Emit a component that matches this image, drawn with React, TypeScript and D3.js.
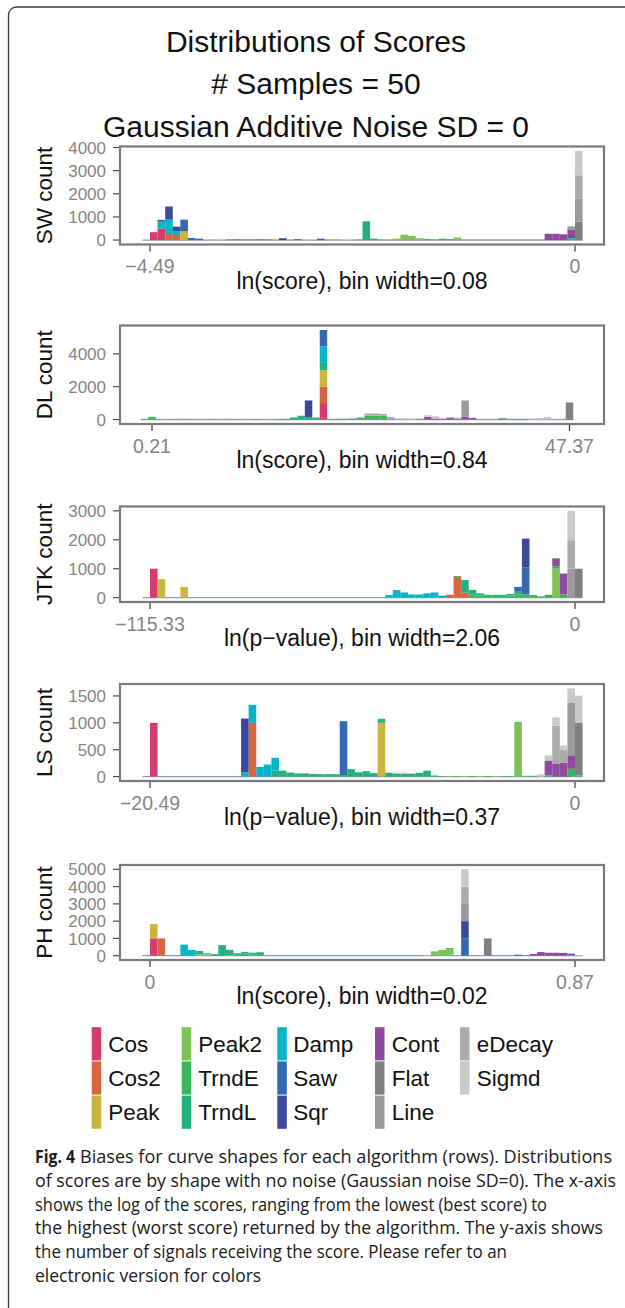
import { useEffect, useRef } from "react";
import * as d3 from "d3";

type Row = [number, string, number];

const shapes = ["Cos", "Cos2", "Peak", "Peak2", "TrndE", "TrndL", "Damp", "Saw", "Sqr", "Cont", "Flat", "Line", "eDecay", "Sigmd"];
const shapeColors = ["#d43d6b", "#d6663f", "#cdb43c", "#7fc255", "#3db55c", "#23b27c", "#08b5c8", "#326ab2", "#3c489c", "#8f4a9c", "#808080", "#9a9a9a", "#ababab", "#c9c9c9"];

const algorithms = ["SW", "DL", "JTK", "LS", "PH"];
const xTitles = [
  "ln(score), bin width=0.08",
  "ln(score), bin width=0.84",
  "ln(p\u2212value), bin width=2.06",
  "ln(p\u2212value), bin width=0.37",
  "ln(score), bin width=0.02",
];
const xMins = [-4.49, 0.21, -115.33, -20.49, 0];
const xMaxs = [0, 47.37, 0, 0, 0.87];
const xTickLabels = [
  ["\u22124.49", "0"],
  ["0.21", "47.37"],
  ["\u2212115.33", "0"],
  ["\u221220.49", "0"],
  ["0", "0.87"],
];
const yTicks = [
  [0, 1000, 2000, 3000, 4000],
  [0, 2000, 4000],
  [0, 1000, 2000, 3000],
  [0, 500, 1000, 1500],
  [0, 1000, 2000, 3000, 4000, 5000],
];

// [bin, shape, count]
const swCounts: Row[] = [
  [0, "Cos", 340],
  [1, "Cos", 500], [1, "Damp", 300], [1, "Sqr", 70],
  [2, "Cos2", 260], [2, "Damp", 650], [2, "Sqr", 540],
  [3, "Cos2", 220], [3, "Damp", 160], [3, "Sqr", 200],
  [4, "Peak", 380], [4, "Saw", 500],
  [5, "Saw", 90], [6, "Saw", 60], [7, "Peak", 20], [8, "Peak", 10], [9, "Peak", 5],
  [10, "Cos2", 30], [11, "Cos2", 40], [12, "Cos2", 30], [12, "Peak", 10], [13, "Cos2", 30], [14, "Cos2", 40], [15, "Cos2", 30],
  [16, "Peak", 20], [17, "Sqr", 80], [18, "Peak", 30], [19, "Saw", 40], [20, "Peak", 10], [21, "Peak", 10], [22, "Saw", 60], [23, "Peak", 30], [24, "Peak", 30],
  [27, "TrndL", 20], [28, "TrndL", 810], [29, "TrndL", 60], [30, "Saw", 15], [31, "Peak2", 30], [32, "Peak2", 60], [33, "Peak2", 230], [34, "Peak2", 180], [35, "Peak2", 80],
  [36, "TrndE", 50], [37, "Peak2", 40], [38, "TrndE", 60], [39, "TrndE", 40], [40, "Peak2", 110], [41, "TrndE", 20],
  [42, "TrndE", 15], [43, "TrndE", 15], [44, "TrndE", 15], [45, "TrndE", 15], [46, "TrndE", 15], [47, "TrndE", 15], [48, "TrndE", 15], [49, "TrndE", 15], [50, "TrndE", 15], [51, "TrndE", 20],
  [52, "Cont", 270], [53, "Cont", 270], [54, "Cont", 250],
  [55, "TrndE", 70], [55, "Saw", 60], [55, "Sqr", 40], [55, "Cont", 270], [55, "Line", 150],
  [56, "Flat", 800], [56, "Line", 1000], [56, "eDecay", 1000], [56, "Sigmd", 1050],
];

const dlCounts: Row[] = [
  [0, "TrndE", 165],
  [1, "Peak", 20], [2, "Peak", 20], [3, "Cos2", 20], [4, "Peak", 20], [5, "Cos2", 20], [6, "Peak", 20], [7, "Peak", 20], [8, "Cos2", 20], [9, "Peak", 20],
  [10, "Peak", 20], [11, "Cos2", 20], [12, "Peak", 20], [13, "Peak", 20], [14, "Cos2", 20], [15, "Peak", 20], [16, "Peak", 20], [17, "TrndL", 20], [18, "TrndL", 30],
  [19, "TrndL", 125], [20, "TrndL", 230], [21, "TrndL", 125], [21, "Sqr", 1035], [22, "TrndL", 120],
  [23, "Cos", 1000], [23, "Cos2", 1000], [23, "Peak", 1000], [23, "TrndL", 450], [23, "Damp", 1000], [23, "Saw", 1000],
  [24, "Line", 30], [25, "TrndE", 20], [25, "Line", 20], [26, "TrndE", 40], [27, "TrndE", 60], [27, "eDecay", 20], [28, "TrndE", 100], [28, "eDecay", 40],
  [29, "TrndE", 230], [29, "eDecay", 140], [30, "TrndE", 240], [30, "eDecay", 130], [31, "TrndE", 230], [31, "eDecay", 110], [32, "Line", 60], [32, "eDecay", 100],
  [33, "Sigmd", 80], [34, "Sigmd", 80], [35, "Sigmd", 50], [36, "Cont", 20], [36, "Sigmd", 40], [37, "Cont", 165], [37, "Sigmd", 105], [38, "Cont", 60], [38, "Sigmd", 140],
  [39, "Cont", 40], [39, "Sigmd", 60], [40, "Cont", 120], [40, "Sigmd", 30], [41, "Cont", 60], [41, "Sigmd", 60], [42, "Cont", 160], [42, "Line", 1000], [43, "Cont", 100],
  [44, "Peak", 15], [45, "Peak", 15], [46, "Peak", 15], [47, "TrndE", 80], [48, "Saw", 15], [49, "Saw", 15], [50, "Saw", 15], [51, "Sigmd", 30],
  [52, "Sigmd", 100], [53, "Sigmd", 165], [54, "Sigmd", 20], [55, "Sigmd", 10], [56, "Flat", 1040],
];

const jtkCounts: Row[] = [
  [0, "Cos", 1000], [1, "Peak", 640], [4, "Peak", 370],
  [31, "Damp", 90], [32, "Damp", 260], [33, "Damp", 180], [34, "Damp", 110], [35, "Damp", 110], [36, "Damp", 150], [37, "Damp", 180], [38, "Damp", 70],
  [39, "Cos2", 100], [40, "Cos2", 720], [40, "TrndL", 30], [41, "Cos2", 170], [41, "TrndL", 440],
  [42, "TrndE", 100], [42, "TrndL", 170], [43, "TrndE", 70], [43, "TrndL", 80], [44, "TrndE", 60], [44, "TrndL", 40], [45, "TrndE", 60], [45, "TrndL", 40],
  [46, "TrndE", 60], [46, "TrndL", 40], [47, "TrndE", 80], [47, "TrndL", 50],
  [48, "TrndE", 100], [48, "TrndL", 130], [48, "Saw", 140], [49, "TrndE", 110], [49, "Saw", 930], [49, "Sqr", 1000],
  [50, "TrndE", 90], [51, "TrndE", 45], [52, "TrndE", 100],
  [53, "Peak2", 1000], [53, "TrndE", 80], [53, "Cont", 280], [54, "TrndE", 110], [54, "Cont", 725],
  [55, "Line", 1000], [55, "eDecay", 985], [55, "Sigmd", 1015], [56, "Flat", 1000],
];

const lsCounts: Row[] = [
  [0, "Cos", 1000],
  [12, "Damp", 80], [12, "Sqr", 1000], [13, "Cos2", 1000], [13, "Damp", 335], [14, "Damp", 180], [15, "Damp", 225], [16, "TrndL", 110], [16, "Damp", 240],
  [17, "TrndL", 110], [18, "TrndL", 75], [19, "TrndL", 60], [20, "TrndL", 60], [21, "TrndL", 50], [22, "TrndL", 45], [23, "TrndL", 45], [24, "TrndL", 45],
  [25, "TrndL", 30], [25, "Saw", 1000], [26, "TrndL", 140], [27, "TrndL", 80], [28, "TrndL", 100], [29, "TrndL", 65], [30, "Peak", 1000], [30, "TrndL", 75],
  [31, "TrndL", 70], [32, "TrndL", 55], [32, "Sigmd", 20], [33, "TrndL", 55], [33, "Sigmd", 20], [34, "TrndL", 55], [35, "TrndL", 70], [36, "TrndL", 110], [37, "TrndL", 20],
  [38, "TrndE", 10], [39, "Peak", 10], [40, "TrndE", 10], [41, "Peak", 10], [42, "TrndE", 10], [43, "Peak", 10], [44, "TrndE", 10], [45, "Peak", 10], [46, "TrndE", 10], [47, "TrndE", 10],
  [48, "Peak2", 1000], [48, "TrndL", 15], [49, "TrndE", 15], [50, "TrndE", 15], [51, "Sigmd", 40],
  [52, "TrndE", 20], [52, "Cont", 280], [52, "Sigmd", 95],
  [53, "Cont", 245], [53, "eDecay", 700], [53, "Sigmd", 155],
  [54, "Cont", 255], [54, "eDecay", 250], [54, "Sigmd", 75],
  [55, "TrndE", 145], [55, "Cont", 250], [55, "Line", 985], [55, "Sigmd", 260],
  [56, "TrndE", 20], [56, "Flat", 985], [56, "Sigmd", 500],
];

const phCounts: Row[] = [
  [0, "Cos", 1000], [0, "Peak", 830], [1, "Cos2", 1000],
  [4, "Damp", 640], [5, "Damp", 340], [6, "Peak", 60], [6, "TrndL", 210], [7, "Peak", 70], [7, "TrndL", 70], [8, "TrndL", 90], [9, "TrndL", 610], [10, "Peak", 40], [10, "TrndL", 300],
  [11, "TrndE", 60], [11, "TrndL", 90], [12, "TrndE", 120], [12, "TrndL", 100], [13, "TrndE", 80], [13, "TrndL", 90], [14, "TrndE", 100], [14, "TrndL", 100],
  [36, "Sigmd", 50], [37, "Peak2", 250], [38, "Peak2", 340], [39, "Peak2", 360], [39, "TrndE", 80],
  [41, "Saw", 1000], [41, "Sqr", 1000], [41, "Line", 1000], [41, "eDecay", 1000], [41, "Sigmd", 1000],
  [44, "Flat", 1000],
  [48, "Saw", 60], [49, "Cont", 15], [50, "Cont", 95], [51, "Cont", 210], [52, "Cont", 170], [53, "Cont", 170], [54, "Cont", 160], [55, "Damp", 40], [55, "Cont", 80], [56, "Sigmd", 30],
];

const panelCounts = [swCounts, dlCounts, jtkCounts, lsCounts, phCounts];

const titleLines = ["Distributions of Scores", "# Samples = 50", "Gaussian Additive Noise SD = 0"];
const captionBold = "Fig. 4";
const captionLines = [
  "Biases for curve shapes for each algorithm (rows). Distributions",
  "of scores are by shape with no noise (Gaussian noise SD=0). The x-axis",
  "shows the log of the scores, ranging from the lowest (best score) to",
  "the highest (worst score) returned by the algorithm. The y-axis shows",
  "the number of signals receiving the score. Please refer to an",
  "electronic version for colors",
];

// layout
const panelTops = [146.5, 325.5, 506.5, 684, 865];
const panelHeights = [98, 98.5, 95.5, 97, 95];
const tickPx = [[150, 575], [152, 569.5], [150, 575], [150, 575], [150, 575]];
const binOffsets = [0, -0.5, 0, 0, 0];
const nBins = 57;
const boxLeft = 120;
const boxRight = 604;

const FONT = "'Liberation Sans', Arial, Helvetica, sans-serif";

export default function App() {
  const ref = useRef<SVGSVGElement>(null);

  useEffect(() => {
    const svg = d3.select(ref.current);
    svg.selectAll("*").remove();

    const color = d3.scaleOrdinal<string, string>().domain(shapes).range(shapeColors);

    // figure frame
    svg.append("path")
      .attr("d", "M8.5,1308 V15 A8,8 0 0 1 16.5,7 H625")
      .attr("fill", "none")
      .attr("stroke", "#3a3a3a")
      .attr("stroke-width", 1.3);

    svg.append("g")
      .attr("font-family", FONT)
      .attr("font-size", 30)
      .attr("text-anchor", "middle")
      .attr("fill", "#111")
      .selectAll("text")
      .data(titleLines)
      .join("text")
      .attr("x", 316)
      .attr("y", (d, i) => 51.5 + i * 42.7)
      .text((d) => d);

    panelCounts.forEach((counts, i) => {
      const table = d3.range(nBins).map((k) => {
        const row: any = { bin: k };
        shapes.forEach((s) => (row[s] = 0));
        return row;
      });
      counts.forEach(([k, s, c]) => (table[k][s] += c));

      const series = d3.stack<any>().keys(shapes)(table);
      const maxY = d3.max(table, (r) => d3.sum(shapes, (s) => r[s])) as number;

      const top = panelTops[i];
      const h = panelHeights[i];
      const bottom = top + h;
      const y = d3.scaleLinear().domain([-0.05 * maxY, 1.05 * maxY]).range([bottom, top]);
      const bw = (xMaxs[i] - xMins[i]) / 56;
      const x = d3.scaleLinear().domain([xMins[i], xMaxs[i]]).range(tickPx[i]);
      const edge = (k: number) => x(xMins[i] + (k + binOffsets[i]) * bw);

      const g = svg.append("g");

      // zero baseline under the bars
      g.append("line")
        .attr("x1", edge(-1))
        .attr("x2", edge(nBins))
        .attr("y1", y(0))
        .attr("y2", y(0))
        .attr("stroke", "#8e9cb2")
        .attr("stroke-width", 1.3);

      g.append("g")
        .selectAll("g")
        .data(series)
        .join("g")
        .attr("fill", (s) => color(s.key))
        .selectAll("rect")
        .data((s) => s.filter((d) => d[1] > d[0]))
        .join("rect")
        .attr("x", (d) => edge(d.data.bin))
        .attr("width", (d) => edge(d.data.bin + 1) - edge(d.data.bin))
        .attr("y", (d) => y(d[1]))
        .attr("height", (d) => y(d[0]) - y(d[1]));

      g.append("rect")
        .attr("x", boxLeft)
        .attr("y", top)
        .attr("width", boxRight - boxLeft)
        .attr("height", h)
        .attr("fill", "none")
        .attr("stroke", "#7a7a7a")
        .attr("stroke-width", 2.2);

      // y axis
      const ya = g.append("g").attr("font-family", FONT).attr("font-size", 17);
      ya.selectAll("line")
        .data(yTicks[i])
        .join("line")
        .attr("x1", boxLeft - 7)
        .attr("x2", boxLeft - 1)
        .attr("y1", (d) => y(d))
        .attr("y2", (d) => y(d))
        .attr("stroke", "#4d4d4d")
        .attr("stroke-width", 1.2);
      ya.selectAll("text")
        .data(yTicks[i])
        .join("text")
        .attr("x", 106)
        .attr("y", (d) => y(d))
        .attr("dy", "0.36em")
        .attr("text-anchor", "end")
        .attr("fill", "#858585")
        .text((d) => String(d));

      // x axis: min and max only
      const xv = [xMins[i], xMaxs[i]];
      const xa = g.append("g").attr("font-family", FONT).attr("font-size", 19.5);
      xa.selectAll("line")
        .data(xv)
        .join("line")
        .attr("x1", (d) => x(d))
        .attr("x2", (d) => x(d))
        .attr("y1", bottom + 1)
        .attr("y2", bottom + 7)
        .attr("stroke", "#333")
        .attr("stroke-width", 1.2);
      xa.selectAll("text")
        .data(xv)
        .join("text")
        .attr("x", (d) => x(d))
        .attr("y", bottom + 28.5)
        .attr("text-anchor", "middle")
        .attr("fill", "#858585")
        .text((d, j) => xTickLabels[i][j]);

      g.append("text")
        .attr("x", (boxLeft + boxRight) / 2)
        .attr("y", bottom + 44)
        .attr("text-anchor", "middle")
        .attr("font-family", FONT)
        .attr("font-size", 23)
        .attr("fill", "#111")
        .text(xTitles[i]);

      g.append("text")
        .attr("transform", `translate(51.5,${top + h / 2}) rotate(-90)`)
        .attr("text-anchor", "middle")
        .attr("font-family", FONT)
        .attr("font-size", 22.5)
        .attr("fill", "#111")
        .text(`${algorithms[i]} count`);
    });

    // legend, filled column by column, three rows
    const keyX = [91.7, 181.7, 277.3, 375, 460];
    const labelX = [108.3, 198.3, 293.3, 391.7, 476.7];
    const rowTop = 1026.7;
    const rowH = 34.2;
    const lg = svg.append("g").attr("font-family", FONT).attr("font-size", 22.5);
    const items = lg.selectAll("g")
      .data(shapes)
      .join("g")
      .attr("transform", (d, i) => `translate(0,${rowTop + (i % 3) * rowH})`);
    items.append("rect")
      .attr("x", (d, i) => keyX[Math.floor(i / 3)])
      .attr("y", 0.5)
      .attr("width", 9.5)
      .attr("height", rowH - 1)
      .attr("fill", (d) => color(d));
    items.append("text")
      .attr("x", (d, i) => labelX[Math.floor(i / 3)])
      .attr("y", 25)
      .attr("fill", "#111")
      .text((d) => d);

    // caption
    const cap = svg.append("g")
      .attr("font-family", "'Open Sans', 'Noto Sans', sans-serif")
      .attr("font-size", 17.5)
      .attr("fill", "#1a1a1a");
    const capWidths = [532, 581, 512, 568, 472, 0];
    cap.append("text")
      .attr("x", 35)
      .attr("y", 1163)
      .attr("font-weight", "bold")
      .attr("textLength", 40)
      .attr("lengthAdjust", "spacingAndGlyphs")
      .text(captionBold);
    captionLines.forEach((line, i) => {
      const t = cap.append("text")
        .attr("x", i === 0 ? 80 : 35)
        .attr("y", 1163 + i * 23.8)
        .text(line);
      if (capWidths[i] > 0) t.attr("textLength", capWidths[i]).attr("lengthAdjust", "spacingAndGlyphs");
    });
  }, []);

  return (
    <svg
      ref={ref}
      width={625}
      height={1308}
      style={{ position: "absolute", left: 0, top: 0, background: "#fff" }}
    />
  );
}
